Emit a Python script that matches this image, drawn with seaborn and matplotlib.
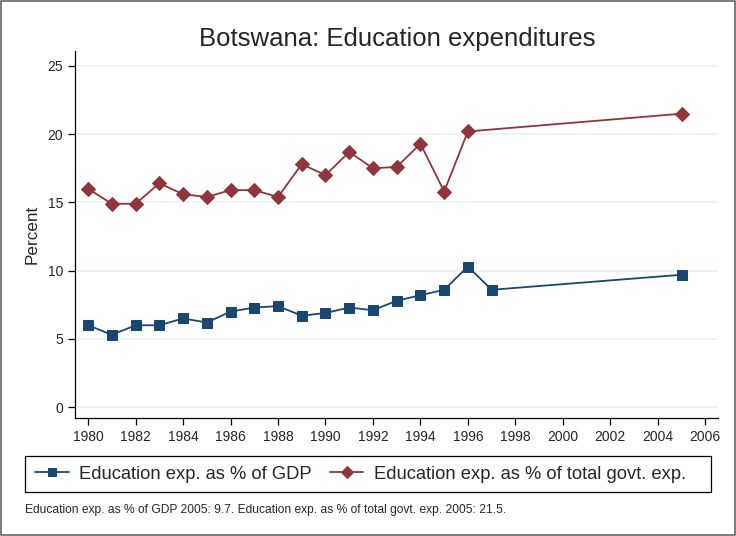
import matplotlib
matplotlib.use("Agg")
import matplotlib.pyplot as plt
import seaborn as sns
import pandas as pd

years_gdp = [1980, 1981, 1982, 1983, 1984, 1985, 1986, 1987, 1988, 1989,
             1990, 1991, 1992, 1993, 1994, 1995, 1996, 1997, 2005]
edu_gdp = [6.0, 5.3, 6.0, 6.0, 6.5, 6.2, 7.0, 7.3, 7.4, 6.7,
           6.9, 7.3, 7.1, 7.8, 8.2, 8.6, 10.3, 8.6, 9.7]

years_govt = [1980, 1981, 1982, 1983, 1984, 1985, 1986, 1987, 1988, 1989,
              1990, 1991, 1992, 1993, 1994, 1995, 1996, 2005]
edu_govt = [16.0, 14.9, 14.9, 16.4, 15.6, 15.4, 15.9, 15.9, 15.4, 17.8,
            17.0, 18.7, 17.5, 17.6, 19.3, 15.8, 20.2, 21.5]

x_ticks = list(range(1980, 2007, 2))
y_ticks = [0, 5, 10, 15, 20, 25]

label_gdp = "Education exp. as % of GDP"
label_govt = "Education exp. as % of total govt. exp."
note = ("Education exp. as % of GDP 2005: 9.7. "
        "Education exp. as % of total govt. exp. 2005: 21.5.")

navy = "#1a476f"
maroon = "#90353b"

sns.set_style("white")
plt.rcParams['font.family'] = ['Liberation Sans', 'DejaVu Sans']

fig = plt.figure(figsize=(7.36, 5.36), dpi=100)
ax = fig.add_axes([0.102, 0.220, 0.874, 0.685])

df_gdp = pd.DataFrame({"year": years_gdp, "value": edu_gdp})
df_govt = pd.DataFrame({"year": years_govt, "value": edu_govt})

sns.lineplot(data=df_gdp, x="year", y="value", ax=ax, color=navy, marker="s",
             markersize=6.5, markeredgecolor=navy, linewidth=1.3, label=label_gdp)
sns.lineplot(data=df_govt, x="year", y="value", ax=ax, color=maroon, marker="D",
             markersize=7, markeredgecolor=maroon, linewidth=1.3, label=label_govt)

ax.set_xlim(1979.45, 2006.55)
ax.set_ylim(-0.8, 26.1)
ax.set_xticks(x_ticks)
ax.set_yticks(y_ticks)
ax.grid(axis="y", color="#eaf2f3", linewidth=1.2)
ax.set_axisbelow(True)
for s in ["top", "right"]:
    ax.spines[s].set_visible(False)
for s in ["left", "bottom"]:
    ax.spines[s].set_color("black")
    ax.spines[s].set_linewidth(0.9)
ax.tick_params(axis="both", which="both", direction="out", length=5, width=0.9,
               color="black", labelsize=10, bottom=True, left=True)
ax.set_xlabel("")
ax.set_ylabel("Percent", fontsize=12.3, labelpad=6)

# legend in a fixed-width box, like the original
ax.get_legend().remove()
handles, labels = ax.get_legend_handles_labels()
leg = fig.legend(handles, labels, loc="center left", ncol=2,
                 bbox_to_anchor=(0.047, 0.1155), fontsize=13.2, frameon=False,
                 handlelength=1.85, handletextpad=0.55, columnspacing=1.0,
                 borderaxespad=0, borderpad=0)
for h in leg.legend_handles:
    h.set_markersize(6)

fig.patches.append(plt.Rectangle((0.034, 0.082), 0.932, 0.067, transform=fig.transFigure,
                                 fill=False, edgecolor="black", linewidth=0.9))

fig.text(0.54, 0.928, "Botswana: Education expenditures", ha="center",
         va="center", fontsize=18.5)
fig.text(0.034, 0.049, note, ha="left", va="center", fontsize=8.65)

fig.patches.append(plt.Rectangle((0.002, 0.002), 0.996, 0.996, transform=fig.transFigure,
                                 fill=False, edgecolor="#666666", linewidth=1.2))

fig.savefig("out.png", dpi=100)
